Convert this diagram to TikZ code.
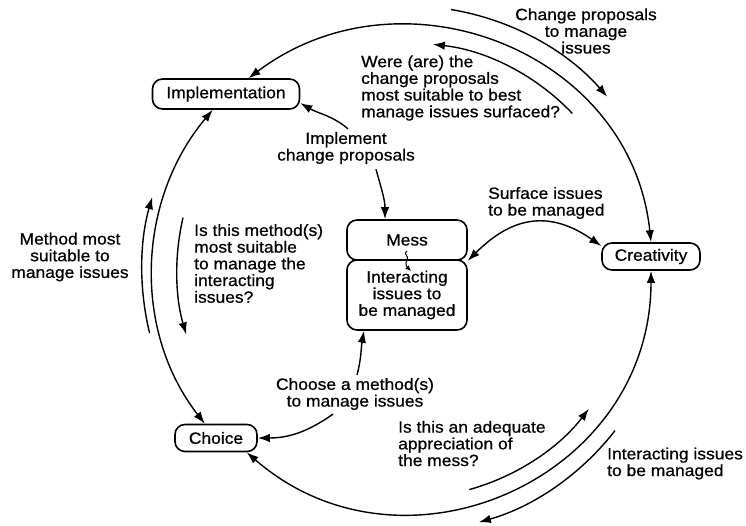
\documentclass[tikz,border=0pt]{standalone}
\usepackage{fontspec}
\setmainfont{Liberation Sans}[FakeStretch=1.07,FakeBold=0.7]
\usetikzlibrary{arrows.meta}
\begin{document}
\begin{tikzpicture}[x=1pt,y=1pt,
  every node/.style={font=\fontsize{16.3}{16.7}\selectfont},
  stage/.style={draw, line width=1.6pt, rounded corners=10pt, inner sep=0pt},
  lbl/.style={inner sep=0pt},
  conn/.style={line width=1.4pt},
  tip/.style={conn, -{Latex[length=12pt,width=8.5pt]}},
  dtip/.style={conn, {Latex[length=12pt,width=8.5pt]}-{Latex[length=12pt,width=8.5pt]}}
]
\useasboundingbox (0,0) rectangle (746,525);
\coordinate (C) at (408,255);

% stages on the loop
\node[stage, minimum width=147pt, minimum height=30pt] (impl) at (226,431) {Implementation};
\node[stage, minimum width=98pt, minimum height=27pt] (creat) at (651,268.5) {Creativity};
\node[stage, minimum width=82pt, minimum height=27pt] (choice) at (216,87) {Choice};

% the mess in the middle
\node[stage, minimum width=120pt, minimum height=40pt] (mess) at (407,285) {Mess};
\node[stage, minimum width=120pt, minimum height=70pt, align=center] (inter) at (407,230)
  {Interacting\\issues to\\be managed};
\draw[conn, line width=1pt, -{Latex[length=5.5pt,width=5pt]}]
  ([yshift=-11pt]mess.center) .. controls +(-5,-3) and +(3,4) .. ([yshift=-20pt]mess.center)
  .. controls +(-3,-4) and +(-3,3) .. ([xshift=4pt,yshift=-31pt]mess.center);

% labels
\node[lbl, align=center] (tchange) at (586,494) {Change proposals\\to manage\\issues};
\node[lbl, align=left, anchor=west] (twere) at (361,437)
  {Were (are) the\\change proposals\\most suitable to best\\manage issues surfaced?};
\node[lbl, align=center] (timpl) at (346,377) {Implement\\change proposals};
\node[lbl, align=left, anchor=west] (tsurf) at (488,322) {Surface issues\\to be managed};
\node[lbl, align=center] (tmethod) at (70,268) {Method most\\suitable to\\manage issues};
\node[lbl, align=left, anchor=west] (tismethod) at (194,261.5)
  {Is this method(s)\\most suitable\\to manage the\\interacting\\issues?};
\node[lbl, align=center] (tchoose) at (355,131) {Choose a method(s)\\to manage issues};
\node[lbl, align=left, anchor=west] (tadeq) at (398,81.5)
  {Is this an adequate\\appreciation of\\the mess?};
\node[lbl, align=left, anchor=west] (tinter) at (607,61.5) {Interacting issues\\to be managed};

% the loop
\draw[dtip] (impl.35) to[out=37,in=96,looseness=1.13] (creat.north);
\draw[dtip] (impl.230) to[out=230,in=128,looseness=0.96] (choice.128);
\draw[dtip] (creat.south) to[out=-90,in=-41,looseness=1.2] (choice.-25);

% flows around the loop
\draw[tip] (C) ++(80.6:264) arc[start angle=80.6, end angle=41, radius=264];
\draw[tip] (C) ++(43.6:227) arc[start angle=43.6, end angle=83.7, radius=227];
\draw[tip] (C) ++(193.7:266) arc[start angle=193.7, end angle=164.1, radius=266];
\draw[tip] (C) ++(166.9:231) arc[start angle=166.9, end angle=196.2, radius=231];
\draw[tip] (C) ++(-74.4:228) arc[start angle=-74.4, end angle=-37.5, radius=228];
\draw[tip] (C) ++(-37.8:262) arc[start angle=-37.8, end angle=-74.3, radius=262];

% links between the mess and the stages
\draw[tip] ([xshift=2pt,yshift=3pt]timpl.north) to[out=140,in=-30] (impl.-7);
\draw[tip] ([xshift=30pt,yshift=-5pt]timpl.south) to[out=-75,in=90] ([xshift=-22pt]mess.north);
\draw[dtip] (mess.south east) to[out=45,in=145,looseness=1.2] (creat.168);
\draw[tip] ([xshift=2pt,yshift=3pt]tchoose.north) to[out=75,in=-100] ([xshift=-43pt]inter.south);
\draw[tip] ([xshift=-22pt,yshift=-4pt]tchoose.south) to[out=215,in=0] (choice.east);
\end{tikzpicture}
\end{document}
